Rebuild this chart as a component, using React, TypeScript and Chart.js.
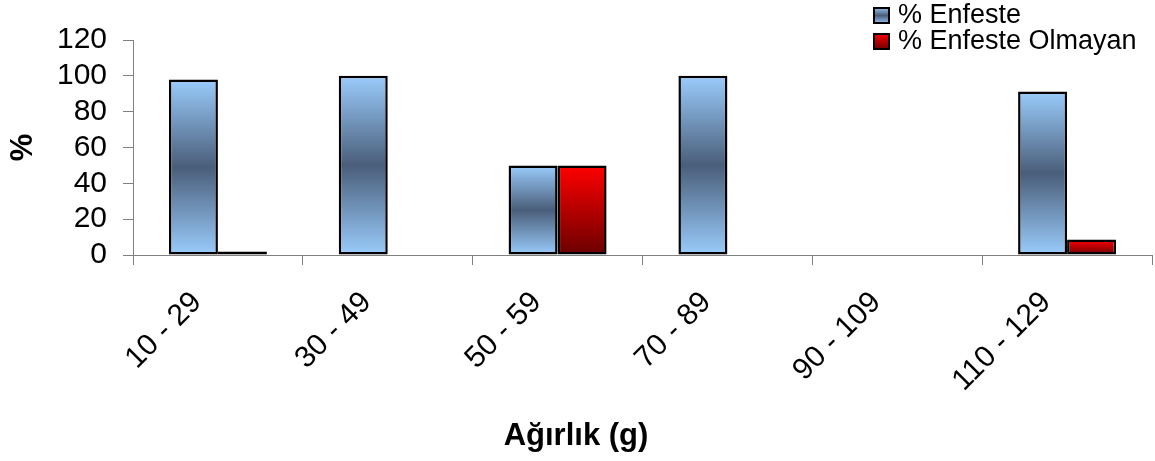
import React, { useEffect, useRef } from "react";
import { Chart, registerables } from "chart.js";

Chart.register(...registerables);

// Weight classes and the share of infested / non-infested samples in each
const categories = ["10 - 29", "30 - 49", "50 - 59", "70 - 89", "90 - 109", "110 - 129"];
const enfeste = [98, 100, 50, 100, 0, 91.3];
const enfesteOlmayan = [2, 0, 50, 0, 0, 8.7];
const seriesNames = ["% Enfeste", "% Enfeste Olmayan"];
const yMin = 0;
const yMax = 120;
const yStep = 20;

const FONT = '"Liberation Sans", Arial, sans-serif';
const AXIS_GREY = "#808080";

type Stops = [number, string][];
const blueStops: Stops = [
  [0, "#9ACCFC"],
  [0.5, "#4A5E7A"],
  [1, "#9ACCFC"],
];
const redStops: Stops = [
  [0, "#FF0000"],
  [1, "#6A0000"],
];

function makeGradient(ctx: CanvasRenderingContext2D, top: number, bottom: number, stops: Stops) {
  const g = ctx.createLinearGradient(0, top, 0, Math.max(bottom, top + 1));
  stops.forEach(([o, c]) => g.addColorStop(o, c));
  return g;
}

// Fill each bar with a vertical gradient spanning just that bar
function barFill(stops: Stops) {
  return (context: any) => {
    const chart = context.chart;
    if (!chart.chartArea || context.type !== "data") return stops[0][1];
    const y = chart.scales.y;
    const top = y.getPixelForValue(context.raw);
    const base = y.getPixelForValue(0);
    return makeGradient(chart.ctx, top, base, stops);
  };
}

// Stacked legend in the upper-right corner
const cornerLegend = {
  id: "cornerLegend",
  afterDraw(chart: any) {
    const c: CanvasRenderingContext2D = chart.ctx;
    const boxX = 873;
    const box = 17;
    const textX = 898;
    c.save();
    seriesNames.forEach((name, i) => {
      const cy = 15.5 + i * 26;
      const top = cy - box / 2;
      c.fillStyle = makeGradient(c, top, top + box, i === 0 ? blueStops : redStops);
      c.fillRect(boxX, top, box, box);
      c.lineWidth = 2;
      c.strokeStyle = "#000";
      c.strokeRect(boxX + 1, top + 1, box - 2, box - 2);
      c.fillStyle = "#000";
      c.font = `27px ${FONT}`;
      c.textAlign = "left";
      c.textBaseline = "middle";
      c.fillText(name, textX, cy);
    });
    c.restore();
  },
};

export default function App() {
  const canvasRef = useRef<HTMLCanvasElement | null>(null);

  useEffect(() => {
    const canvas = canvasRef.current;
    if (!canvas) return;
    const chart = new Chart(canvas, {
      type: "bar",
      data: {
        labels: categories,
        datasets: [
          {
            label: seriesNames[0],
            data: enfeste,
            backgroundColor: barFill(blueStops),
            borderColor: "#000",
            borderWidth: 2.5,
            borderSkipped: false,
          },
          {
            label: seriesNames[1],
            data: enfesteOlmayan,
            backgroundColor: barFill(redStops),
            borderColor: "#000",
            borderWidth: 2.5,
            borderSkipped: false,
          },
        ],
      },
      options: {
        responsive: false,
        animation: false,
        devicePixelRatio: 1,
        layout: { padding: { top: 40, right: 3, left: 0, bottom: 0 } },
        datasets: {
          bar: { categoryPercentage: 0.577, barPercentage: 1 },
        },
        plugins: {
          legend: { display: false },
          tooltip: { enabled: false },
          title: {
            display: true,
            position: "bottom",
            text: "Ağırlık (g)",
            color: "#000",
            font: { family: FONT, size: 31, weight: "bold" },
            padding: { top: 0, bottom: 6.4 },
          },
        },
        scales: {
          x: {
            grid: {
              offset: true,
              drawOnChartArea: false,
              drawTicks: true,
              tickLength: 10,
              color: AXIS_GREY,
            },
            border: { color: AXIS_GREY, width: 1 },
            ticks: {
              color: "#000",
              font: { family: FONT, size: 30 },
              minRotation: 45,
              maxRotation: 45,
              autoSkip: false,
              padding: 20,
              labelOffset: -21,
            },
            afterFit(scale: any) {
              scale.height = 162.4;
            },
          },
          y: {
            min: yMin,
            max: yMax,
            grid: {
              drawOnChartArea: false,
              drawTicks: true,
              tickLength: 10,
              color: AXIS_GREY,
            },
            border: { color: AXIS_GREY, width: 1 },
            ticks: {
              stepSize: yStep,
              autoSkip: false,
              color: "#000",
              font: { family: FONT, size: 30 },
              padding: 16,
            },
            title: {
              display: true,
              text: "%",
              color: "#000",
              font: { family: FONT, size: 31, weight: "bold" },
              padding: { top: 5, bottom: 0 },
            },
            afterFit(scale: any) {
              scale.width = 133;
            },
          },
        },
      },
      plugins: [cornerLegend],
    });
    return () => chart.destroy();
  }, []);

  return (
    <div style={{ position: "fixed", left: 0, top: 0, width: 1155, height: 461, background: "#fff" }}>
      <canvas ref={canvasRef} width={1155} height={461} />
    </div>
  );
}
